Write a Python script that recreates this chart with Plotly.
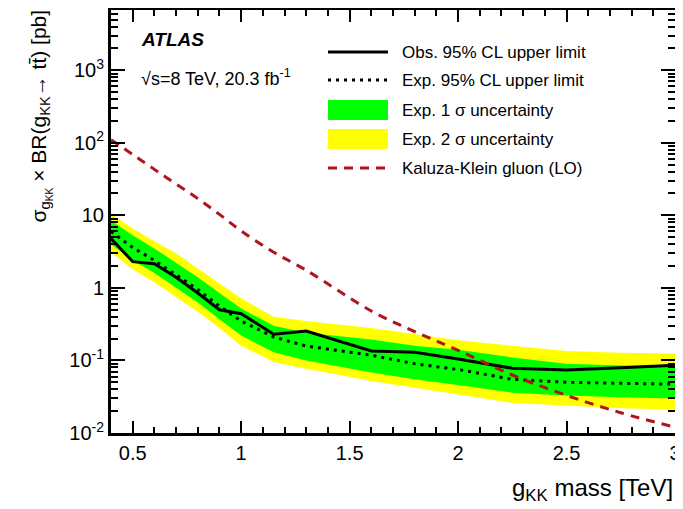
import numpy as np
import plotly.graph_objects as go

# ---- data ----
mass = [0.4, 0.5, 0.6, 0.7, 0.8, 0.9, 1.0, 1.15, 1.3, 1.6, 1.8, 2.0, 2.25, 2.5, 2.75, 3.0]
obs_limit = [4.8, 2.3, 2.15, 1.4, 0.85, 0.5, 0.44, 0.23, 0.255, 0.135, 0.13, 0.105, 0.078, 0.074, 0.079, 0.086]
exp_limit = [6.0, 3.6, 2.4, 1.5, 0.95, 0.56, 0.35, 0.21, 0.158, 0.118, 0.09, 0.075, 0.055, 0.05, 0.048, 0.047]
exp_plus2 = [10.5, 6.6, 4.4, 3.0, 1.85, 1.15, 0.72, 0.40, 0.35, 0.28, 0.23, 0.19, 0.16, 0.135, 0.128, 0.125]
exp_plus1 = [8.5, 5.3, 3.5, 2.2, 1.4, 0.85, 0.52, 0.30, 0.24, 0.195, 0.16, 0.14, 0.11, 0.09, 0.085, 0.083]
exp_minus1 = [4.0, 2.4, 1.6, 1.0, 0.63, 0.37, 0.22, 0.13, 0.10, 0.068, 0.055, 0.046, 0.036, 0.033, 0.031, 0.030]
exp_minus2 = [3.1, 1.8, 1.2, 0.75, 0.47, 0.28, 0.16, 0.095, 0.077, 0.052, 0.042, 0.034, 0.026, 0.024, 0.022, 0.021]
kk_gluon = [110, 69, 43, 27, 17, 10.3, 6.1, 3.1, 1.75, 0.48, 0.25, 0.138, 0.063, 0.033, 0.019, 0.012]

ytick_vals = [0.01, 0.1, 1, 10, 100, 1000]
ytick_text = ["10<sup>-2</sup>", "10<sup>-1</sup>", "1", "10", "10<sup>2</sup>", "10<sup>3</sup>"]
xtick_vals = [0.5, 1, 1.5, 2, 2.5, 3]
xtick_text = ["0.5", "1", "1.5", "2", "2.5", "3"]

legend_labels = ["Obs. 95% CL upper limit", "Exp. 95% CL upper limit",
                 "Exp. 1 σ uncertainty", "Exp. 2 σ uncertainty", "Kaluza-Klein gluon (LO)"]

FONT = "Liberation Sans, Arial, Helvetica, sans-serif"
YELLOW = "#ffff00"
GREEN = "#00ff00"
RED = "#b0141c"

fig = go.Figure()
# 2 sigma band
fig.add_trace(go.Scatter(x=mass, y=exp_minus2, mode="lines", line=dict(width=0, color=YELLOW),
                         showlegend=False, hoverinfo="skip"))
fig.add_trace(go.Scatter(x=mass, y=exp_plus2, mode="lines", line=dict(width=0, color=YELLOW),
                         fill="tonexty", fillcolor=YELLOW, showlegend=False))
# 1 sigma band
fig.add_trace(go.Scatter(x=mass, y=exp_minus1, mode="lines", line=dict(width=0, color=GREEN),
                         showlegend=False, hoverinfo="skip"))
fig.add_trace(go.Scatter(x=mass, y=exp_plus1, mode="lines", line=dict(width=0, color=GREEN),
                         fill="tonexty", fillcolor=GREEN, showlegend=False))
# expected
fig.add_trace(go.Scatter(x=mass, y=exp_limit, mode="lines",
                         line=dict(color="black", width=3, dash="3px,5px"), showlegend=False))
# observed
fig.add_trace(go.Scatter(x=mass, y=obs_limit, mode="lines",
                         line=dict(color="black", width=3), showlegend=False))
# KK gluon
fig.add_trace(go.Scatter(x=mass, y=kk_gluon, mode="lines", line_shape="spline",
                         line=dict(color=RED, width=3, dash="9px,7px"), showlegend=False))

# page coordinates (the page body adds an 8 px offset to the figure)
OFF = 8
PX0, PX1, PY0, PY1 = 111, 675, 10, 433
W, H = 683 - OFF, 509 - OFF
L, R, T, B = PX0 - OFF, 683 - PX1, PY0 - OFF, 509 - PY1
pw, ph = PX1 - PX0, PY1 - PY0

def px(X):
    return (X - PX0) / pw

def py(Y):
    return (PY1 - Y) / ph

shapes = []
annotations = []
rows = [52, 80, 110, 139, 168]
sx0, sx1 = px(328), px(388)
# legend symbols
shapes.append(dict(type="line", xref="paper", yref="paper", x0=sx0, x1=sx1, y0=py(rows[0]), y1=py(rows[0]),
                   line=dict(color="black", width=3)))
shapes.append(dict(type="line", xref="paper", yref="paper", x0=sx0, x1=sx1, y0=py(rows[1]), y1=py(rows[1]),
                   line=dict(color="black", width=3, dash="3px,5px")))
shapes.append(dict(type="rect", xref="paper", yref="paper", x0=sx0, x1=sx1, y0=py(rows[2] + 10), y1=py(rows[2] - 10),
                   fillcolor=GREEN, line=dict(width=0)))
shapes.append(dict(type="rect", xref="paper", yref="paper", x0=sx0, x1=sx1, y0=py(rows[3] + 10), y1=py(rows[3] - 10),
                   fillcolor=YELLOW, line=dict(width=0)))
shapes.append(dict(type="line", xref="paper", yref="paper", x0=sx0, x1=sx1, y0=py(rows[4]), y1=py(rows[4]),
                   line=dict(color=RED, width=3, dash="9px,7px")))
for lab, r in zip(legend_labels, rows):
    annotations.append(dict(text=lab, xref="paper", yref="paper", x=px(400), y=py(r),
                            xanchor="left", yanchor="middle", showarrow=False,
                            font=dict(family=FONT, size=17, color="black")))

annotations.append(dict(text="<b><i>ATLAS</i></b>", xref="paper", yref="paper", x=px(139), y=py(40),
                        xanchor="left", yanchor="middle", showarrow=False,
                        font=dict(family=FONT, size=19, color="black")))
annotations.append(dict(text="√s=8 TeV, 20.3 fb<sup>-1</sup>", xref="paper", yref="paper", x=px(139), y=py(77),
                        xanchor="left", yanchor="middle", showarrow=False,
                        font=dict(family=FONT, size=18, color="black")))
annotations.append(dict(text="g<sub>KK</sub> mass [TeV]", xref="paper", yref="paper", x=px(675), y=py(489),
                        xanchor="right", yanchor="middle", showarrow=False,
                        font=dict(family=FONT, size=24, color="black")))
annotations.append(dict(text="σ<sub>g<sub>KK</sub></sub> × BR(g<sub>KK</sub>→ tt̄) [pb]",
                        xref="paper", yref="paper", x=px(40), y=py(8), textangle=-90,
                        xanchor="center", yanchor="top", showarrow=False,
                        font=dict(family=FONT, size=21, color="black")))

minor_y = [m * 10.0 ** k for k in range(-2, 4) for m in range(2, 10)]

fig.update_layout(
    width=W, height=H,
    margin=dict(l=L, r=R, t=T, b=B, pad=0, autoexpand=False),
    paper_bgcolor="white", plot_bgcolor="white",
    shapes=shapes, annotations=annotations,
    showlegend=False,
    font=dict(family=FONT, size=20, color="black"),
    xaxis=dict(range=[0.4, 3.0], tickmode="array", tickvals=xtick_vals, ticktext=xtick_text,
               ticks="inside", ticklen=12, tickwidth=2, tickcolor="black", automargin=False,
               minor=dict(ticks="inside", ticklen=6, tickwidth=2, tickcolor="black", dtick=0.1, tick0=0.4, showgrid=False),
               showline=True, linewidth=3, linecolor="black", mirror="allticks",
               showgrid=False, zeroline=False, tickfont=dict(size=20)),
    yaxis=dict(type="log", range=[-2, 3.83], tickmode="array", tickvals=ytick_vals, ticktext=ytick_text,
               ticks="inside", ticklen=14, tickwidth=2, tickcolor="black", automargin=False,
               minor=dict(ticks="inside", ticklen=7, tickwidth=2, tickcolor="black",
                          tickmode="array", tickvals=minor_y, showgrid=False),
               showline=True, linewidth=3, linecolor="black", mirror="allticks",
               showgrid=False, zeroline=False, tickfont=dict(size=20)),
)

fig.write_html("out.html")
